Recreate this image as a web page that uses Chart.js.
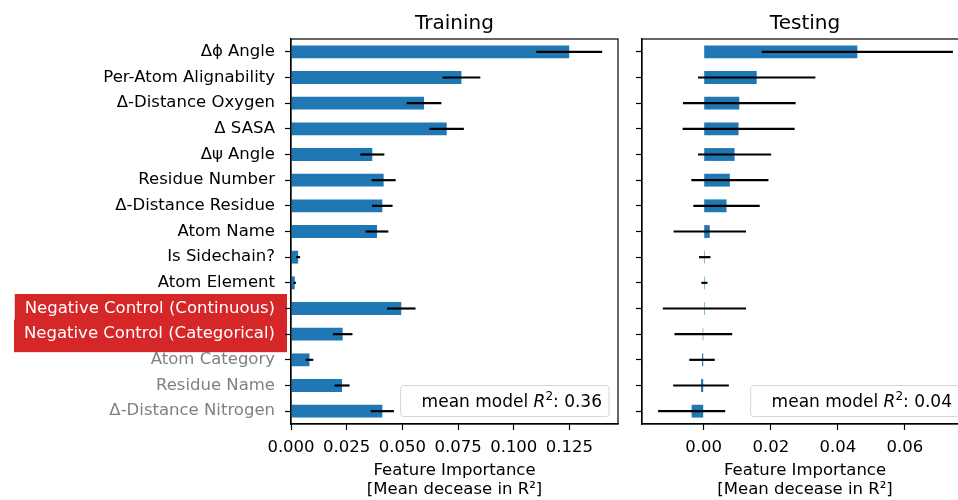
<!DOCTYPE html>
<html>
<head>
<meta charset="utf-8">
<title>Feature importance</title>
<script src="https://cdn.jsdelivr.net/npm/chart.js@4.4.1/dist/chart.umd.min.js"></script>
<style>
html, body { margin: 0; padding: 0; background: #fff; width: 958px; height: 500px; overflow: hidden; }
#wrap { position: relative; width: 958px; height: 500px; overflow: hidden; }
canvas { position: absolute; top: 0; }
#trainChart { left: 0; }
#testChart { left: 630px; }
</style>
</head>
<body>
<div id="wrap">
  <canvas id="trainChart" width="630" height="500"></canvas>
  <canvas id="testChart" width="350" height="500"></canvas>
</div>
<script>
// Feature importance (permutation) - training vs testing
const features = [
    'Δϕ Angle', 'Per-Atom Alignability', 'Δ-Distance Oxygen', 'Δ SASA', 'Δψ Angle',
    'Residue Number', 'Δ-Distance Residue', 'Atom Name', 'Is Sidechain?', 'Atom Element',
    'Negative Control (Continuous)', 'Negative Control (Categorical)',
    'Atom Category', 'Residue Name', 'Δ-Distance Nitrogen'
];
const negControlIdx = [10, 11];
const grayIdx = [12, 13, 14];

const trainMean = [0.1249, 0.0765, 0.0597, 0.0699, 0.0365, 0.0416, 0.0410, 0.0386, 0.0032, 0.0017, 0.0495, 0.0232, 0.0083, 0.0229, 0.0410];
const trainErr  = [0.0148, 0.0085, 0.0078, 0.0077, 0.0054, 0.0054, 0.0046, 0.0051, 0.0009, 0.0005, 0.0064, 0.0044, 0.0017, 0.0034, 0.0052];
const testMean  = [0.0458, 0.0158, 0.0106, 0.0104, 0.0092, 0.0078, 0.0068, 0.0018, 0.0003, 0.0002, 0.0002, -0.0001, -0.0005, -0.0008, -0.0036];
const testErr   = [0.0285, 0.0175, 0.0168, 0.0167, 0.0109, 0.0115, 0.0099, 0.0108, 0.0017, 0.0009, 0.0124, 0.0086, 0.0038, 0.0083, 0.0100];

const trainRange = [0, 0.1468];
const testRange  = [-0.0184, 0.0788];
const trainTicks = [0, 0.025, 0.05, 0.075, 0.1, 0.125];
const testTicks  = [0, 0.02, 0.04, 0.06];
const trainR2 = '0.36';
const testR2  = '0.04';

const FONT = '"DejaVu Sans", sans-serif';
const FS = 16.5;
Chart.defaults.font.family = FONT;
Chart.defaults.font.size = FS;
Chart.defaults.color = '#000';

function tickColor(ctx) {
    if (negControlIdx.includes(ctx.index)) return '#fff';
    if (grayIdx.includes(ctx.index)) return '#808080';
    return '#000';
}

// box round the plot area, like matplotlib spines
const frameBox = {
    id: 'frameBox',
    afterDraw(chart) {
        const a = chart.chartArea, c = chart.ctx;
        c.save();
        c.strokeStyle = '#000';
        c.lineWidth = 1.2;
        c.strokeRect(a.left, a.top, a.right - a.left, a.bottom - a.top);
        c.restore();
    }
};

// black horizontal error bars, mean +/- err
function errorBars(means, errs) {
    return {
        id: 'errorBars',
        afterDatasetsDraw(chart) {
            const xs = chart.scales.x, ys = chart.scales.y, c = chart.ctx;
            c.save();
            c.strokeStyle = '#000';
            c.lineWidth = 2.2;
            means.forEach((m, i) => {
                const y = ys.getPixelForValue(i);
                c.beginPath();
                c.moveTo(xs.getPixelForValue(m - errs[i]), y);
                c.lineTo(xs.getPixelForValue(m + errs[i]), y);
                c.stroke();
            });
            c.restore();
        }
    };
}

// red background behind the negative control labels
const labelBoxes = {
    id: 'labelBoxes',
    beforeDraw(chart) {
        const ys = chart.scales.y, c = chart.ctx;
        const right = chart.chartArea.left - 6 - 10;
        c.save();
        c.font = FS + 'px ' + FONT;
        c.fillStyle = '#d62728';
        negControlIdx.forEach(i => {
            const w = c.measureText(features[i]).width;
            const y = ys.getPixelForTick(i);
            c.fillRect(right - w - 10, y - 14.5, w + 22, 32.5);
        });
        c.restore();
    }
};

// legend-like box with the mean model R2
function r2Box(value) {
    return {
        id: 'r2Box',
        afterDraw(chart) {
            const a = chart.chartArea, c = chart.ctx;
            const parts = [
                {t: 'mean model ', f: '17px ' + FONT, dy: 0},
                {t: 'R', f: 'italic 17px ' + FONT, dy: 0},
                {t: '2', f: '12px ' + FONT, dy: -7},
                {t: ': ' + value, f: '17px ' + FONT, dy: 0}
            ];
            c.save();
            let tw = 0;
            parts.forEach(p => { c.font = p.f; p.w = c.measureText(p.t).width; tw += p.w; });
            const boxR = a.right - 9, boxB = a.bottom - 7.5, boxH = 31;
            const boxL = boxR - tw - 28;
            c.beginPath();
            c.roundRect(boxL, boxB - boxH, boxR - boxL, boxH, 3);
            c.fillStyle = 'rgba(255,255,255,0.8)';
            c.fill();
            c.strokeStyle = '#d6d6d6';
            c.lineWidth = 1;
            c.stroke();
            c.fillStyle = '#000';
            c.textBaseline = 'alphabetic';
            let x = boxR - 7 - tw;
            parts.forEach(p => {
                c.font = p.f;
                c.fillText(p.t, x, boxB - 10 + p.dy);
                x += p.w;
            });
            c.restore();
        }
    };
}

function makeChart(id, title, means, errs, range, tickVals, decimals, r2, side) {
    const isLeft = side === 'left';
    const extra = isLeft ? [labelBoxes] : [];
    return new Chart(document.getElementById(id), {
        type: 'bar',
        data: {
            labels: features,
            datasets: [{
                data: means,
                xAxisID: 'x',
                yAxisID: 'y',
                backgroundColor: '#1f77b4',
                borderWidth: 0,
                minBarLength: 1,
                barPercentage: 0.5,
                categoryPercentage: 1.0
            }]
        },
        options: {
            indexAxis: 'y',
            responsive: false,
            animation: false,
            devicePixelRatio: 1,
            layout: { padding: { left: 0, right: 12, top: 0, bottom: 0 } },
            plugins: {
                legend: { display: false },
                tooltip: { enabled: false },
                title: { display: false }
            },
            scales: {
                x: {
                    type: 'linear',
                    min: range[0],
                    max: range[1],
                    afterBuildTicks: s => { s.ticks = tickVals.map(v => ({value: v})); },
                    afterFit: s => { s.height = 76; },
                    ticks: {
                        autoSkip: false, maxRotation: 0, padding: 8, color: '#000',
                        callback: v => Number(v).toFixed(decimals)
                    },
                    grid: { drawOnChartArea: false, drawTicks: true, tickLength: 6, tickWidth: 1.2, color: '#000' },
                    border: { display: true, color: '#000', width: 1.2 },
                    title: {
                        display: true,
                        text: ['Feature Importance', '[Mean decease in R²]'],
                        color: '#000',
                        font: { size: FS },
                        padding: { top: 4, bottom: 0 }
                    }
                },
                // top axis only carries the panel title, centred over the plot area
                top: {
                    type: 'linear',
                    position: 'top',
                    afterFit: s => { s.height = 39; },
                    ticks: { display: false },
                    grid: { display: false },
                    border: { display: false },
                    title: {
                        display: true,
                        text: title,
                        color: '#000',
                        font: { size: 20 },
                        padding: { top: 12, bottom: 0 }
                    }
                },
                y: {
                    type: 'category',
                    offset: true,
                    afterFit: s => { s.width = isLeft ? 291 : 12; },
                    ticks: { autoSkip: false, padding: 10, color: tickColor, display: isLeft },
                    grid: { offset: false, drawOnChartArea: false, drawTicks: true, tickLength: 6, tickWidth: 1.2, color: '#000' },
                    border: { display: true, color: '#000', width: 1.2 }
                }
            }
        },
        plugins: extra.concat([errorBars(means, errs), frameBox, r2Box(r2)])
    });
}

document.addEventListener('DOMContentLoaded', () => {
    makeChart('trainChart', 'Training', trainMean, trainErr, trainRange, trainTicks, 3, trainR2, 'left');
    makeChart('testChart', 'Testing', testMean, testErr, testRange, testTicks, 2, testR2, 'right');
});
</script>
</body>
</html>
